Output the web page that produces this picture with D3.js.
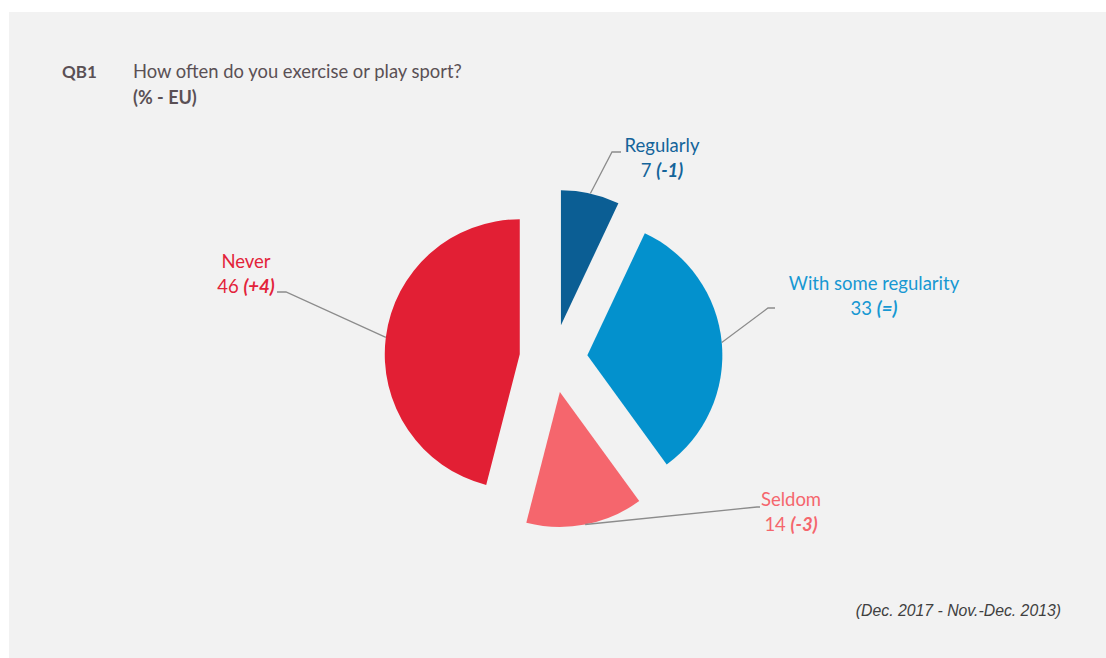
<!DOCTYPE html>
<html>
<head>
<meta charset="utf-8">
<script src="https://cdn.jsdelivr.net/npm/d3@7"></script>
<style>
  html, body { margin: 0; padding: 0; background: #ffffff; }
  svg { display: block; }
</style>
</head>
<body>
<svg id="chart" width="1106" height="658"></svg>
<script>
// ---- data ----
const categories = ["Regularly", "With some regularity", "Seldom", "Never"];
const values = [7, 33, 14, 46];
const changes = ["-1", "=", "-3", "+4"];

const colors = ["#0b5e94", "#0391cd", "#f5666d", "#e21f34"];
const labelColors = ["#14649a", "#1798d2", "#f5666d", "#e3233a"];

// label placement (text centre / first baseline, leader elbow and end)
const labelLayout = [
  { tx: 662, ty: 152, elbow: [612, 152], end: [621, 152] },
  { tx: 874, ty: 290, elbow: [768, 308], end: [775, 308] },
  { tx: 791, ty: 506, elbow: [757, 507], end: [760, 507] },
  { tx: 246, ty: 268, elbow: [286, 292], end: [277, 292] },
];

const svg = d3.select("#chart");
const width = +svg.attr("width");
const height = +svg.attr("height");

// panel
svg.append("rect")
  .attr("x", 9).attr("y", 12)
  .attr("width", width - 9).attr("height", height - 12)
  .attr("fill", "#f2f2f2");

// title block
const titleColor = "#5a5055";
const font = "Lato, 'Open Sans', sans-serif";
svg.append("text")
  .attr("x", 62).attr("y", 78)
  .attr("font-family", font).attr("font-weight", 700)
  .attr("font-size", 17).attr("fill", titleColor)
  .text("QB1");
svg.append("text")
  .attr("x", 133).attr("y", 78)
  .attr("font-family", font)
  .attr("font-size", 18.4).attr("fill", titleColor)
  .text("How often do you exercise or play sport?");
svg.append("text")
  .attr("x", 133).attr("y", 104)
  .attr("font-family", font).attr("font-weight", 700)
  .attr("font-size", 18).attr("fill", titleColor)
  .text("(% - EU)");

// footnote
svg.append("text")
  .attr("x", 1061).attr("y", 616)
  .attr("text-anchor", "end")
  .attr("font-family", "'Liberation Sans', Arial, sans-serif")
  .attr("font-style", "italic")
  .attr("font-size", 15.8).attr("fill", "#404040")
  .text("(Dec. 2017 - Nov.-Dec. 2013)");

// ---- pie ----
const cx = 553.5, cy = 358.5;
const radius = 135;
const explode = 34;

const pie = d3.pie().sort(null).value((d, i) => values[i]);
const arcs = pie(categories);
const arc = d3.arc().innerRadius(0).outerRadius(radius);

const offsetOf = (a) => {
  const mid = (a.startAngle + a.endAngle) / 2;
  return [explode * Math.sin(mid), -explode * Math.cos(mid)];
};

const g = svg.append("g").attr("transform", `translate(${cx},${cy})`);

// leader lines
arcs.forEach((a, i) => {
  const [ox, oy] = offsetOf(a);
  const mid = (a.startAngle + a.endAngle) / 2;
  const sx = cx + ox + radius * Math.sin(mid);
  const sy = cy + oy - radius * Math.cos(mid);
  const L = labelLayout[i];
  svg.append("path")
    .attr("d", d3.line()([[sx, sy], L.elbow, L.end]))
    .attr("fill", "none")
    .attr("stroke", "#8c8c8c")
    .attr("stroke-width", 1.3);
});

g.selectAll("path.slice")
  .data(arcs)
  .join("path")
  .attr("class", "slice")
  .attr("transform", (d) => `translate(${offsetOf(d)})`)
  .attr("d", arc)
  .attr("fill", (d, i) => colors[i]);

// labels
arcs.forEach((a, i) => {
  const L = labelLayout[i];
  const t = svg.append("text")
    .attr("x", L.tx).attr("y", L.ty)
    .attr("text-anchor", "middle")
    .attr("font-family", font)
    .attr("font-size", 18.5)
    .attr("fill", labelColors[i]);
  t.append("tspan").text(categories[i]);
  const t2 = svg.append("text")
    .attr("x", L.tx).attr("y", L.ty + 25)
    .attr("text-anchor", "middle")
    .attr("font-family", font)
    .attr("font-size", 18.5)
    .attr("fill", labelColors[i]);
  t2.append("tspan").text(values[i] + " ");
  t2.append("tspan")
    .attr("font-weight", 700)
    .attr("font-style", "italic")
    .text(`(${changes[i]})`);
});
</script>
</body>
</html>
